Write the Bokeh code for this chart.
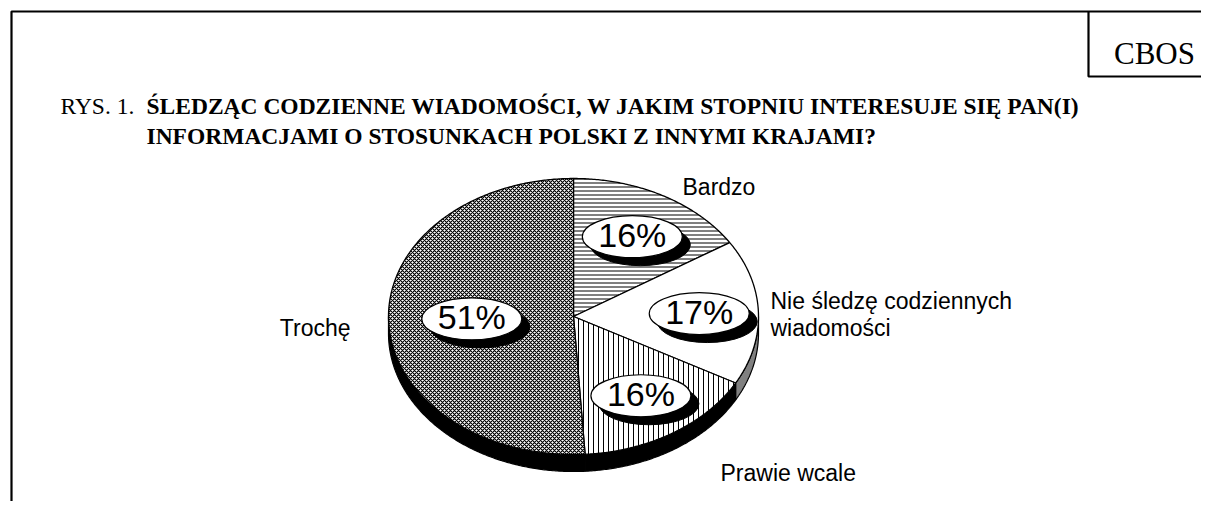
import numpy as np
from bokeh.plotting import figure
from bokeh.models import Range1d, ColumnDataSource
from bokeh.core.properties import value
from bokeh.embed import file_html
from bokeh.resources import INLINE

# ---------------- data ----------------
categories = ["Bardzo", "Nie śledzę codziennych\nwiadomości", "Prawie wcale", "Trochę"]
values = [16, 17, 16, 51]
pct_labels = ["16%", "17%", "16%", "51%"]
title_prefix = "RYS. 1."
title_lines = ["ŚLEDZĄC CODZIENNE WIADOMOŚCI, W JAKIM STOPNIU INTERESUJE SIĘ PAN(I)",
               "INFORMACJAMI O STOSUNKACH POLSKI Z INNYMI KRAJAMI?"]
source_label = "CBOS"

# ---------------- styles / layout ----------------
hatch_patterns = ["horizontal_line", "blank", "vertical_line", "diagonal_cross"]
hatch_scales = [4, 4, 5, 4]
hatch_weights = [1.0, 1.0, 1.0, 1.2]
side_colors = ["#000000", "#808080", "#000000", "#000000"]
label_r = [0.66, 0.68, 0.68, 0.55]
# category label anchors in page pixels (x, baseline y, align)
cat_anchor = [(682, 186, "left"), (770, 300, "left"), (720, 472, "left"), (350, 327, "right")]

W, H = 1201, 501
SANS = value("Liberation Sans")
SERIF = value("Liberation Serif")


def X(xr):
    return xr


def Y(yr):
    return H - yr


p = figure(width=W, height=H, x_range=Range1d(0, W), y_range=Range1d(0, H),
           output_backend="svg", toolbar_location=None, min_border=0,
           x_axis_location=None, y_axis_location=None, title=None)
p.grid.visible = False
p.outline_line_color = None
p.background_fill_color = "white"
p.border_fill_color = "white"

# frame
p.multi_line(xs=[[X(11), X(11), X(W)], [X(1088), X(1088), X(W)]],
             ys=[[Y(H), Y(11), Y(11)], [Y(11), Y(76), Y(76)]],
             line_color="black", line_width=2.2)
p.text(x=[X(1154)], y=[Y(53)], text=[source_label], text_font=SERIF, text_font_size="31px",
       text_align="center", text_baseline="alphabetic", text_color="black")

# title
p.text(x=[X(60)], y=[Y(105)], text=[title_prefix], text_font=SERIF, text_font_size="23.5px",
       text_align="left", text_baseline="alphabetic", text_color="black")
p.text(x=[X(146), X(146)], y=[Y(105), Y(135)], text=title_lines, text_font=SERIF,
       text_font_size="23.5px", text_font_style="bold", text_align="left",
       text_baseline="alphabetic", text_color="black")

# ---------------- pie geometry ----------------
cx, cy, rx, ry, depth = 573, 316, 185, 138, 17
total = float(sum(values))
bounds = np.concatenate([[0], np.cumsum(values)]) / total * 360.0


def pt(a_deg, k=1.0, dy=0.0):
    a = np.radians(a_deg)
    return cx + k * rx * np.sin(a), cy - k * ry * np.cos(a) + dy


# sides (visible for angles 90..270)
side_xs, side_ys, side_c = [], [], []
for i in range(len(values)):
    a1, a2 = max(bounds[i], 90.0), min(bounds[i + 1], 270.0)
    if a2 <= a1:
        continue
    t = np.linspace(a1, a2, max(3, int(a2 - a1) * 2))
    tx, ty = pt(t)
    bx, by = pt(t[::-1], dy=depth)
    side_xs.append(list(X(np.concatenate([tx, bx]))))
    side_ys.append(list(Y(np.concatenate([ty, by]))))
    side_c.append(side_colors[i])
p.patches(xs=side_xs, ys=side_ys, fill_color=side_c, line_color="black", line_width=1.2)

# top faces
top = dict(xs=[], ys=[], hp=[], hs=[], hw=[])
for i in range(len(values)):
    t = np.linspace(bounds[i], bounds[i + 1], max(3, int(bounds[i + 1] - bounds[i]) * 2))
    tx, ty = pt(t)
    top["xs"].append(list(X(np.concatenate([[cx], tx]))))
    top["ys"].append(list(Y(np.concatenate([[cy], ty]))))
    top["hp"].append(hatch_patterns[i])
    top["hs"].append(hatch_scales[i])
    top["hw"].append(hatch_weights[i])
p.patches(xs="xs", ys="ys", source=ColumnDataSource(top), fill_color="white",
          hatch_pattern="hp", hatch_scale="hs", hatch_weight="hw", hatch_color="black",
          line_color="black", line_width=1.3)

# percentage labels in ellipses with shadow
mids = (bounds[:-1] + bounds[1:]) / 2
lx, ly = pt(mids, k=np.array(label_r))
p.ellipse(x=X(lx + 8), y=Y(ly + 8), width=100, height=42, fill_color="black", line_color="black")
p.ellipse(x=X(lx), y=Y(ly), width=100, height=42, fill_color="white", line_color="black",
          line_width=1.2)
p.text(x=X(lx), y=Y(ly - 2), text=pct_labels, text_font=SANS, text_font_size="34px",
       text_align="center", text_baseline="middle", text_color="black")

# category labels
for cat, (ax, ay, al) in zip(categories, cat_anchor):
    for j, line in enumerate(cat.split("\n")):
        p.text(x=[X(ax)], y=[Y(ay + 27 * j)], text=[line], text_font=SANS, text_font_size="23px",
               text_align=al, text_baseline="alphabetic", text_color="black")

open("out.html", "w").write(file_html(p, INLINE))
